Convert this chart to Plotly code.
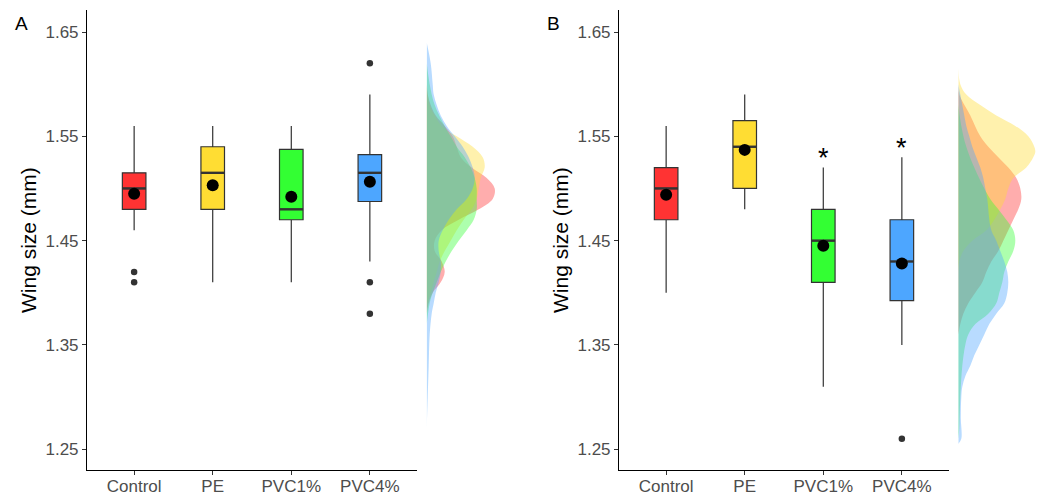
import plotly.graph_objects as go

W, H = 1042, 495

categories = ["Control", "PE", "PVC1%", "PVC4%"]
box_colors = ["#FF3333", "#FFDD33", "#33FF33", "#4DA6FF"]
dens_colors = ["rgba(255,51,51,0.4)", "rgba(255,221,51,0.4)", "rgba(51,255,51,0.4)", "rgba(77,166,255,0.4)"]

# ---------------- Panel A data ----------------
A_q1 = [1.480, 1.480, 1.470, 1.4875]
A_med = [1.500, 1.515, 1.480, 1.515]
A_q3 = [1.515, 1.540, 1.5375, 1.5325]
A_lo = [1.460, 1.410, 1.410, 1.430]
A_hi = [1.560, 1.560, 1.560, 1.590]
A_mean = [1.495, 1.503, 1.492, 1.5065]
A_out = [[1.42, 1.41], [], [], [1.62, 1.41, 1.38]]

# ---------------- Panel B data ----------------
B_q1 = [1.470, 1.500, 1.410, 1.3925]
B_med = [1.500, 1.540, 1.450, 1.430]
B_q3 = [1.520, 1.565, 1.480, 1.470]
B_lo = [1.400, 1.480, 1.310, 1.350]
B_hi = [1.560, 1.590, 1.520, 1.530]
B_mean = [1.494, 1.537, 1.445, 1.428]
B_out = [[], [], [], [1.26]]
B_star_y = [None, None, 1.535, 1.545]

# ---------------- marginal densities (value, relative width) ----------------
A_dens_y = [
    [1.60, 1.59, 1.58, 1.57, 1.56, 1.55, 1.54, 1.53, 1.52, 1.51, 1.50, 1.49, 1.48, 1.47, 1.46, 1.45, 1.44, 1.43, 1.42, 1.41, 1.40, 1.39, 1.38],
    [1.60, 1.58, 1.57, 1.56, 1.55, 1.54, 1.53, 1.52, 1.51, 1.50, 1.49, 1.48, 1.47, 1.46, 1.45, 1.44, 1.43, 1.42, 1.41, 1.40, 1.39, 1.38],
    [1.62, 1.60, 1.58, 1.56, 1.55, 1.54, 1.53, 1.52, 1.51, 1.50, 1.49, 1.48, 1.47, 1.46, 1.45, 1.44, 1.43, 1.42, 1.41, 1.40, 1.39, 1.37],
    [1.64, 1.62, 1.60, 1.59, 1.58, 1.57, 1.56, 1.55, 1.54, 1.53, 1.52, 1.51, 1.50, 1.49, 1.48, 1.47, 1.46, 1.45, 1.44, 1.43, 1.42, 1.41, 1.40, 1.39, 1.38, 1.36, 1.33, 1.30, 1.27],
]
A_dens_w = [
    [0, 1, 4, 9, 18, 26, 30, 34, 45, 60, 68, 66, 52, 32, 15, 8, 8, 15, 18, 14, 6, 2, 0],
    [0, 3, 8, 15, 30, 46, 56, 58, 54, 52, 50, 45, 37, 30, 24, 18, 13, 10, 7, 4, 1, 0],
    [0, 3, 8, 18, 24, 30, 38, 44, 48, 50, 50, 50, 47, 40, 32, 25, 19, 14, 10, 6, 3, 0],
    [0, 4, 6, 7, 10, 14, 20, 28, 36, 42, 46, 48, 46, 40, 30, 22, 16, 12, 12, 14, 14, 12, 9, 7, 5, 3, 2, 1, 0],
]
B_dens_y = [
    [1.60, 1.59, 1.57, 1.55, 1.54, 1.53, 1.52, 1.51, 1.50, 1.49, 1.48, 1.47, 1.46, 1.45, 1.44, 1.43, 1.42, 1.41, 1.40, 1.39, 1.38, 1.37, 1.36],
    [1.615, 1.60, 1.59, 1.58, 1.57, 1.56, 1.55, 1.54, 1.535, 1.53, 1.52, 1.51, 1.50, 1.49, 1.48, 1.47, 1.46, 1.45, 1.44, 1.43, 1.42],
    [1.58, 1.56, 1.54, 1.52, 1.50, 1.49, 1.48, 1.47, 1.46, 1.45, 1.44, 1.43, 1.42, 1.41, 1.40, 1.39, 1.38, 1.37, 1.36, 1.35, 1.33, 1.30, 1.27, 1.26],
    [1.60, 1.59, 1.58, 1.57, 1.56, 1.55, 1.54, 1.53, 1.52, 1.51, 1.50, 1.49, 1.48, 1.47, 1.46, 1.45, 1.44, 1.43, 1.42, 1.41, 1.40, 1.39, 1.38, 1.37, 1.36, 1.35, 1.34, 1.33, 1.32, 1.31, 1.30, 1.28, 1.26, 1.255],
]
B_dens_w = [
    [0, 1, 12, 22, 30, 40, 50, 58, 62, 63, 60, 55, 50, 45, 40, 33, 28, 24, 17, 10, 5, 2, 0],
    [0, 2, 8, 22, 38, 57, 70, 76, 77, 75, 68, 55, 50, 47, 42, 36, 28, 14, 5, 1, 0],
    [0, 3, 8, 16, 26, 32, 40, 48, 55, 57, 55, 50, 46, 44, 41, 38, 30, 17, 10, 7, 4, 2, 1, 0],
    [0, 2, 4, 6, 8, 11, 14, 18, 22, 25, 27, 29, 30, 31, 33, 38, 42, 46, 49, 50, 49, 46, 38, 31, 26, 21, 16, 12, 7, 4, 3, 2.5, 3, 0],
]

y_ticks = [1.25, 1.35, 1.45, 1.55, 1.65]
y_range = [1.2301, 1.6711]
x_range = [0.4, 4.6]
box_w = 0.3

FONT = "Liberation Sans, Arial, sans-serif"
LINE = "#333333"

fig = go.Figure()


def add_panel(xa, ya, q1, med, q3, lo, hi, mean, outs):
    for i, cat in enumerate(categories):
        xi = i + 1
        fig.add_trace(go.Box(
            x=[xi], q1=[q1[i]], median=[med[i]], q3=[q3[i]],
            lowerfence=[lo[i]], upperfence=[hi[i]],
            width=box_w, whiskerwidth=0, fillcolor=box_colors[i],
            line=dict(color=LINE, width=1.2), boxpoints=False,
            xaxis=xa, yaxis=ya, showlegend=False, hoverinfo="skip"))
        fig.add_trace(go.Scatter(
            x=[xi - box_w / 2, xi + box_w / 2], y=[med[i], med[i]], mode="lines",
            line=dict(color=LINE, width=2.4), xaxis=xa, yaxis=ya,
            showlegend=False, hoverinfo="skip"))
        if outs[i]:
            fig.add_trace(go.Scatter(
                x=[xi] * len(outs[i]), y=outs[i], mode="markers",
                marker=dict(color=LINE, size=6.5), xaxis=xa, yaxis=ya,
                showlegend=False, hoverinfo="skip"))
    fig.add_trace(go.Scatter(
        x=[i + 1 for i in range(len(categories))], y=mean, mode="markers",
        marker=dict(color="black", size=12), xaxis=xa, yaxis=ya,
        showlegend=False, hoverinfo="skip"))


def add_density(xa, ya, dys, dws):
    for i in range(len(categories)):
        fig.add_trace(go.Scatter(
            x=dws[i], y=dys[i], mode="lines", fill="tozerox",
            fillcolor=dens_colors[i], line=dict(width=0, shape="spline", smoothing=1.0),
            xaxis=xa, yaxis=ya, showlegend=False, hoverinfo="skip"))


add_panel("x", "y", A_q1, A_med, A_q3, A_lo, A_hi, A_mean, A_out)
add_density("x2", "y2", A_dens_y, A_dens_w)
add_panel("x3", "y3", B_q1, B_med, B_q3, B_lo, B_hi, B_mean, B_out)
add_density("x4", "y4", B_dens_y, B_dens_w)

ydom = [1 - 470 / H, 1 - 10 / H]

box_x = dict(range=x_range, tickvals=[1, 2, 3, 4], ticktext=categories,
             showline=True, linecolor="black", linewidth=1.1, ticks="outside",
             ticklen=4, tickwidth=1.1, tickcolor=LINE, showgrid=False, zeroline=False,
             tickfont=dict(family=FONT, size=17, color="#4D4D4D"), fixedrange=True,
             automargin=False, ticklabelstandoff=-3)
box_y = dict(range=y_range, domain=ydom, tickvals=y_ticks,
             ticktext=[f"{v:.2f}" for v in y_ticks],
             showline=True, linecolor="black", linewidth=1.1, ticks="outside",
             ticklen=4, tickwidth=1.1, tickcolor=LINE, showgrid=False, zeroline=False,
             tickfont=dict(family=FONT, size=17, color="#4D4D4D"), fixedrange=True,
             automargin=False)
hidden = dict(visible=False, showgrid=False, zeroline=False, fixedrange=True, automargin=False)

fig.update_layout(
    width=W, height=H, margin=dict(l=0, r=0, t=0, b=0, autoexpand=False),
    paper_bgcolor="white", plot_bgcolor="rgba(0,0,0,0)",
    boxmode="overlay", showlegend=False,
    xaxis=dict(box_x, domain=[87 / W, 417 / W], anchor="y"),
    yaxis=dict(box_y, anchor="x"),
    xaxis2=dict(hidden, domain=[426.7 / W, 526.7 / W], range=[0, 100], anchor="y2"),
    yaxis2=dict(hidden, domain=ydom, range=y_range, anchor="x2"),
    xaxis3=dict(box_x, domain=[619 / W, 949 / W], anchor="y3"),
    yaxis3=dict(box_y, anchor="x3"),
    xaxis4=dict(hidden, domain=[958.3 / W, 1.0], range=[0, 83.7], anchor="y4"),
    yaxis4=dict(hidden, domain=ydom, range=y_range, anchor="x4"),
)

annotations = []
for lbl, xp in [("A", 21), ("B", 553)]:
    annotations.append(dict(text=lbl, x=xp / W, y=1 - 24 / H, xref="paper", yref="paper",
                            showarrow=False, xanchor="center", yanchor="middle",
                            font=dict(family=FONT, size=19, color="black")))
for xp in [28, 560]:
    annotations.append(dict(text="Wing size (mm)", x=xp / W, y=1 - 240 / H, xref="paper", yref="paper",
                            showarrow=False, textangle=-90, xanchor="center", yanchor="middle",
                            font=dict(family=FONT, size=21, color="black")))
for i, sy in enumerate(B_star_y):
    if sy is not None:
        annotations.append(dict(text="*", x=i + 1, y=sy, xref="x3", yref="y3",
                                showarrow=False, xanchor="center", yanchor="middle", yshift=-6,
                                font=dict(family=FONT, size=27, color="black")))
fig.update_layout(annotations=annotations)

fig.write_html("out.html")
